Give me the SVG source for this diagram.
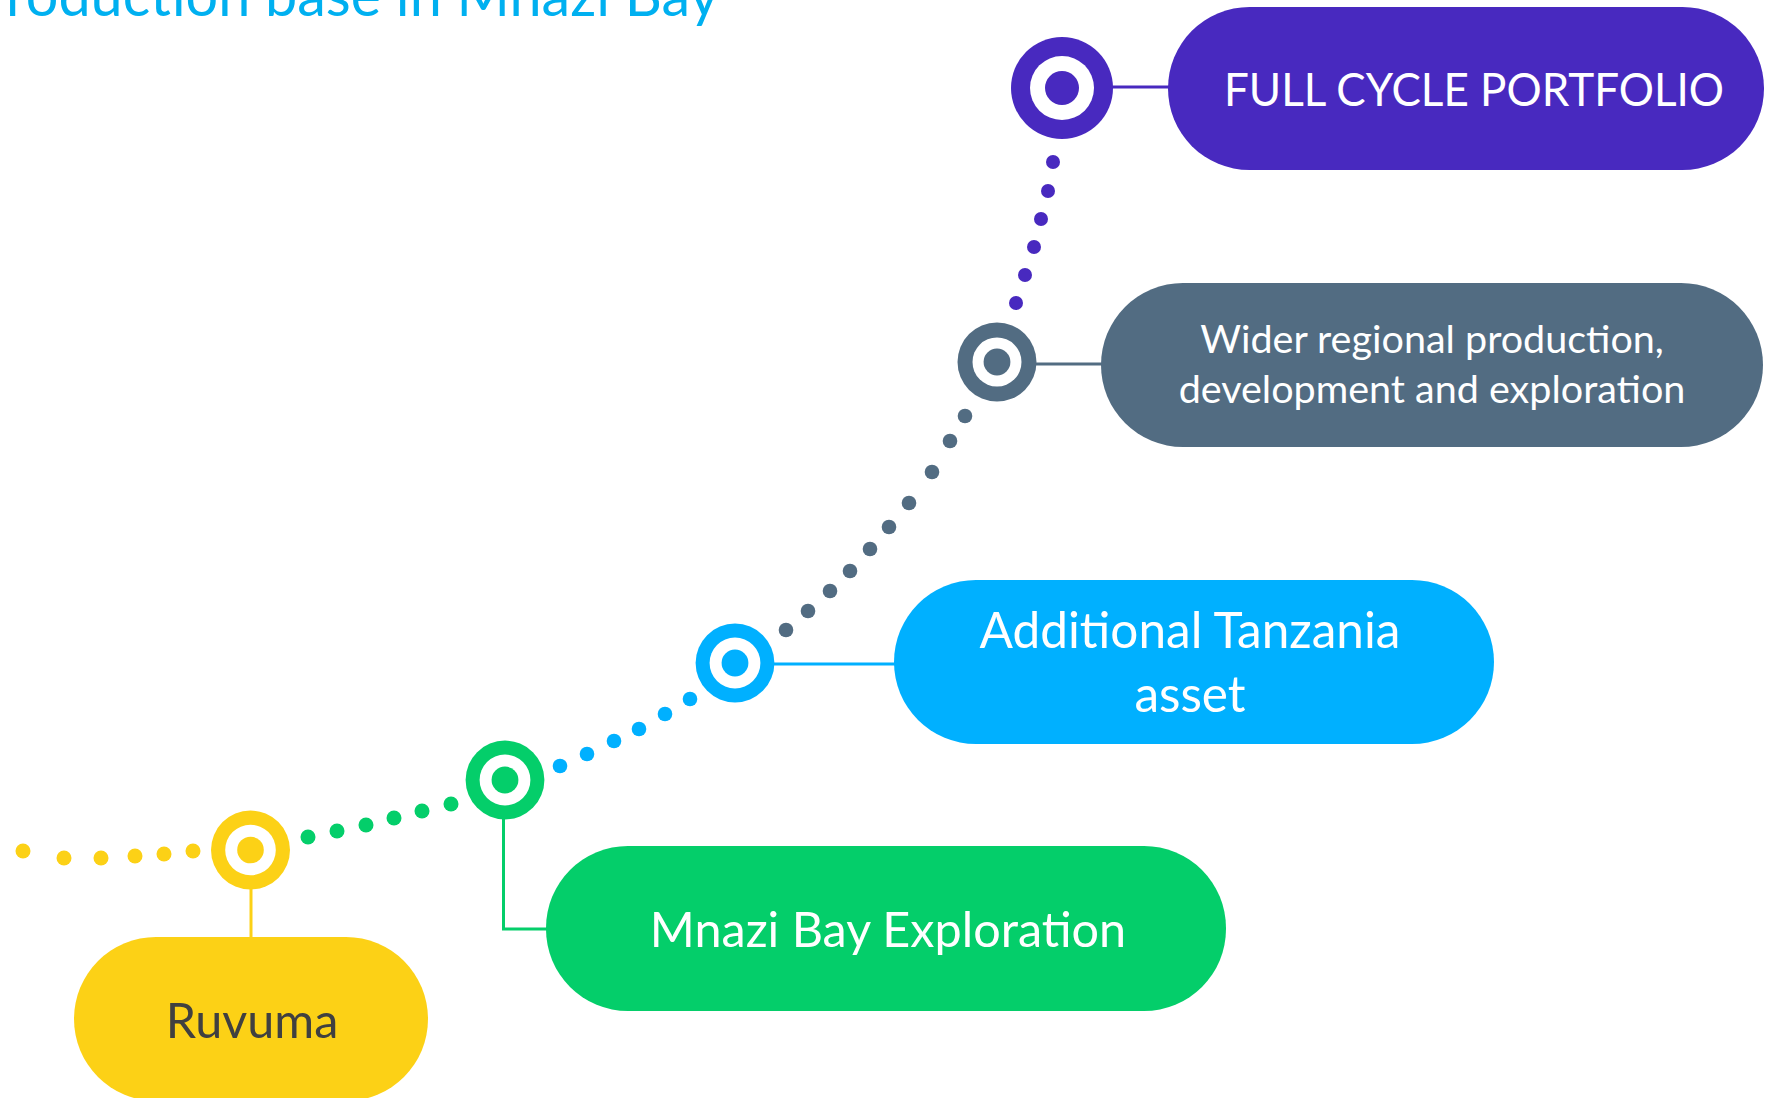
<svg xmlns="http://www.w3.org/2000/svg" width="1780" height="1098" viewBox="0 0 1780 1098">
  <style>
    .lbl { font-family: Lato, "Liberation Sans", sans-serif; fill: #ffffff; text-anchor: middle; }
    .big { font-size: 48.5px; }
    .small { font-size: 39.5px; }
    .title { font-family: Lato, "Liberation Sans", sans-serif; font-weight: 400; font-size: 58px; fill: #00B0F0; }
    .purple { fill: #4829BF; }
    .grey { fill: #526C82; }
    .blue { fill: #00B0FF; }
    .green { fill: #04CE6A; }
    .yellow { fill: #FCD116; }
    .white { fill: #ffffff; }
  </style>
  <rect width="1780" height="1098" fill="#ffffff"/>

  <text class="title" x="6" y="16" textLength="713" lengthAdjust="spacingAndGlyphs">roduction base in Mnazi Bay</text>

  <g id="connectors">
    <line x1="1112" y1="87" x2="1170" y2="87" stroke="#4829BF" stroke-width="3"/>
    <line x1="1036" y1="364" x2="1103" y2="364" stroke="#526C82" stroke-width="3"/>
    <line x1="774" y1="664" x2="896" y2="664" stroke="#00B0FF" stroke-width="3"/>
    <path d="M503.5,818 V929 H548" fill="none" stroke="#04CE6A" stroke-width="3"/>
    <line x1="251" y1="888" x2="251" y2="939" stroke="#FCD116" stroke-width="3"/>

    <g id="dots-yellow" class="yellow">
      <circle cx="23" cy="851" r="7.5"/>
      <circle cx="64" cy="858" r="7.5"/>
      <circle cx="101" cy="858" r="7.5"/>
      <circle cx="135" cy="856" r="7.5"/>
      <circle cx="164" cy="854" r="7.5"/>
      <circle cx="193" cy="851" r="7.5"/>
    </g>
    <g id="dots-green" class="green">
      <circle cx="308" cy="837" r="7.5"/>
      <circle cx="337" cy="831" r="7.5"/>
      <circle cx="366" cy="825" r="7.5"/>
      <circle cx="394" cy="818" r="7.5"/>
      <circle cx="422" cy="811" r="7.5"/>
      <circle cx="451" cy="804" r="7.5"/>
    </g>
    <g id="dots-blue" class="blue">
      <circle cx="560" cy="766" r="7.3"/>
      <circle cx="587" cy="754" r="7.3"/>
      <circle cx="614" cy="741" r="7.3"/>
      <circle cx="639" cy="729" r="7.3"/>
      <circle cx="665" cy="714" r="7.3"/>
      <circle cx="690" cy="699" r="7.3"/>
    </g>
    <g id="dots-grey" class="grey">
      <circle cx="786" cy="630" r="7.3"/>
      <circle cx="808" cy="611" r="7.3"/>
      <circle cx="830" cy="591" r="7.3"/>
      <circle cx="850" cy="571" r="7.3"/>
      <circle cx="870" cy="549" r="7.3"/>
      <circle cx="889" cy="527" r="7.3"/>
      <circle cx="909" cy="503" r="7.3"/>
      <circle cx="932" cy="472" r="7.3"/>
      <circle cx="950" cy="441" r="7.3"/>
      <circle cx="965" cy="416" r="7.3"/>
    </g>
    <g id="dots-purple" class="purple">
      <circle cx="1016" cy="303" r="7"/>
      <circle cx="1025" cy="275" r="7"/>
      <circle cx="1034" cy="247" r="7"/>
      <circle cx="1041" cy="219" r="7"/>
      <circle cx="1048" cy="191" r="7"/>
      <circle cx="1053" cy="162" r="7"/>
    </g>
  </g>

  <g id="node-ruvuma">
    <circle class="yellow" cx="250.5" cy="850" r="39.5"/>
    <circle class="white" cx="250.5" cy="850" r="25.3"/>
    <circle class="yellow" cx="250.5" cy="850" r="13.3"/>
    <rect class="yellow" x="74" y="937" width="354" height="164" rx="82"/>
    <text class="lbl big" x="252" y="1038" style="fill:#404040">Ruvuma</text>
  </g>

  <g id="node-mnazi">
    <circle class="green" cx="505" cy="780" r="39.4"/>
    <circle class="white" cx="505" cy="780" r="25.4"/>
    <circle class="green" cx="505" cy="780" r="13.4"/>
    <rect class="green" x="546" y="846" width="680" height="165" rx="82"/>
    <text class="lbl big" x="888" y="947">Mnazi Bay Exploration</text>
  </g>

  <g id="node-tanzania">
    <circle class="blue" cx="735" cy="663" r="39.4"/>
    <circle class="white" cx="735" cy="663" r="25.4"/>
    <circle class="blue" cx="735" cy="663" r="13.4"/>
    <rect class="blue" x="894" y="580" width="600" height="164" rx="82"/>
    <text class="lbl big" x="1190" y="648" style="font-size:49.5px">Additional Tanzania</text>
    <text class="lbl big" x="1190" y="712" style="font-size:49.5px">asset</text>
  </g>

  <g id="node-regional">
    <circle class="grey" cx="997" cy="362" r="39.5"/>
    <circle class="white" cx="997" cy="362" r="24.5"/>
    <circle class="grey" cx="997" cy="362" r="13.4"/>
    <rect class="grey" x="1101" y="283" width="662" height="164" rx="82"/>
    <text class="lbl small" x="1432" y="353">Wider regional production,</text>
    <text class="lbl small" x="1432" y="403">development and exploration</text>
  </g>

  <g id="node-full">
    <circle class="purple" cx="1062" cy="88" r="51"/>
    <circle class="white" cx="1062" cy="88" r="32"/>
    <circle class="purple" cx="1062" cy="88" r="17"/>
    <rect class="purple" x="1168" y="7" width="596" height="163" rx="81.5"/>
    <text class="lbl" x="1474" y="106" style="font-size:47px" textLength="500" lengthAdjust="spacingAndGlyphs">FULL CYCLE PORTFOLIO</text>
  </g>
</svg>
